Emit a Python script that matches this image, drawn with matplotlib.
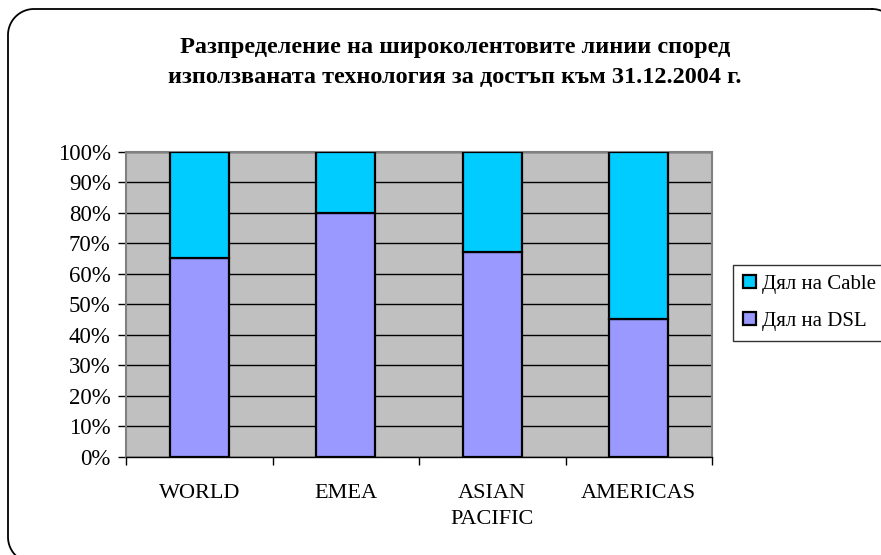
import matplotlib
matplotlib.use("Agg")
import matplotlib.pyplot as plt
import numpy as np
from matplotlib.ticker import FixedLocator, PercentFormatter

plt.rcParams['font.family'] = ['Liberation Serif', 'DejaVu Serif']

# Data: share of broadband lines by access technology
categories = ["WORLD", "EMEA", "ASIAN\nPACIFIC", "AMERICAS"]
dsl_share = [65, 80, 67, 45]
cable_share = [35, 20, 33, 55]
series_labels = ["Дял на Cable", "Дял на DSL"]
title = ("Разпределение на широколентовите линии според\n"
         "използваната технология за достъп към 31.12.2004 г.")

W, H = 881, 555
fig = plt.figure(figsize=(W / 100, H / 100), dpi=100)
fig.patch.set_facecolor("white")


def rounded_rect(left, top, right, bottom, r, n=30):
    """Outline of a rounded rectangle in top-down pixel coordinates."""
    corners = [
        (right - r, top + r, -np.pi / 2, 0),        # top-right
        (right - r, bottom - r, 0, np.pi / 2),      # bottom-right
        (left + r, bottom - r, np.pi / 2, np.pi),   # bottom-left
        (left + r, top + r, np.pi, 1.5 * np.pi),    # top-left
    ]
    xs, ys = [], []
    for cx, cy, a0, a1 in corners:
        t = np.linspace(a0, a1, n)
        xs.extend(cx + r * np.cos(t))
        ys.extend(cy + r * np.sin(t))
    xs.append(xs[0])
    ys.append(ys[0])
    return np.array(xs), np.array(ys)


# Rounded outer frame on a full-figure overlay in pixel units
frame_ax = fig.add_axes([0, 0, 1, 1], zorder=-1)
frame_ax.set_xlim(0, W)
frame_ax.set_ylim(H, 0)
frame_ax.axis("off")
fx, fy = rounded_rect(8, 9, 898, 563, 26)
frame_ax.plot(fx, fy, color="black", linewidth=1.3, clip_on=False)

# Plot area
x0, x1, y_top, y_bot = 126, 712, 151.5, 456.7
ax = fig.add_axes([x0 / W, 1 - y_bot / H, (x1 - x0) / W, (y_bot - y_top) / H])
ax.set_facecolor("#C0C0C0")

x = np.arange(len(categories))
bar_w = 0.4
ax.bar(x, dsl_share, width=bar_w, color="#9999FF", edgecolor="black",
       linewidth=1.6, label=series_labels[1], zorder=3)
ax.bar(x, cable_share, width=bar_w, bottom=dsl_share, color="#00CCFF",
       edgecolor="black", linewidth=1.6, label=series_labels[0], zorder=3)

ax.set_xlim(-0.5, len(categories) - 0.5)
ax.set_ylim(0, 100)
ax.yaxis.set_major_locator(FixedLocator(np.arange(0, 101, 10)))
ax.yaxis.set_major_formatter(PercentFormatter(decimals=0))
ax.grid(axis="y", color="black", linewidth=1.0, zorder=1)
ax.set_axisbelow(True)

ax.set_xticks(x)
ax.set_xticklabels(categories, fontsize=16, linespacing=1.45, va="top")
ax.set_xticks(np.arange(-0.5, len(categories)), minor=True)
ax.tick_params(axis="x", which="major", length=0, pad=20)
ax.tick_params(axis="x", which="minor", length=6, width=1, color="black")
ax.tick_params(axis="y", length=6, width=1, pad=5, labelsize=16.5)

for side in ("top", "right", "left"):
    ax.spines[side].set_color("#808080")
    ax.spines[side].set_linewidth(1.5)
ax.spines["bottom"].set_color("black")
ax.spines["bottom"].set_linewidth(1.0)

fig.text(455 / W, 1 - 62.5 / H, title, ha="center", va="center",
         fontsize=17.5, fontweight="bold", linespacing=1.6)

handles, labels = ax.get_legend_handles_labels()
leg = fig.legend(handles[::-1], labels[::-1], loc="center left",
                 bbox_to_anchor=(733 / W, 1 - 303 / H), fontsize=15,
                 frameon=True, fancybox=False, edgecolor="black",
                 handlelength=0.6, handleheight=0.6, handletextpad=0.3,
                 labelspacing=0.85, borderpad=0.5, borderaxespad=0)
leg.get_frame().set_linewidth(1.0)

fig.savefig("out.png", dpi=100)
